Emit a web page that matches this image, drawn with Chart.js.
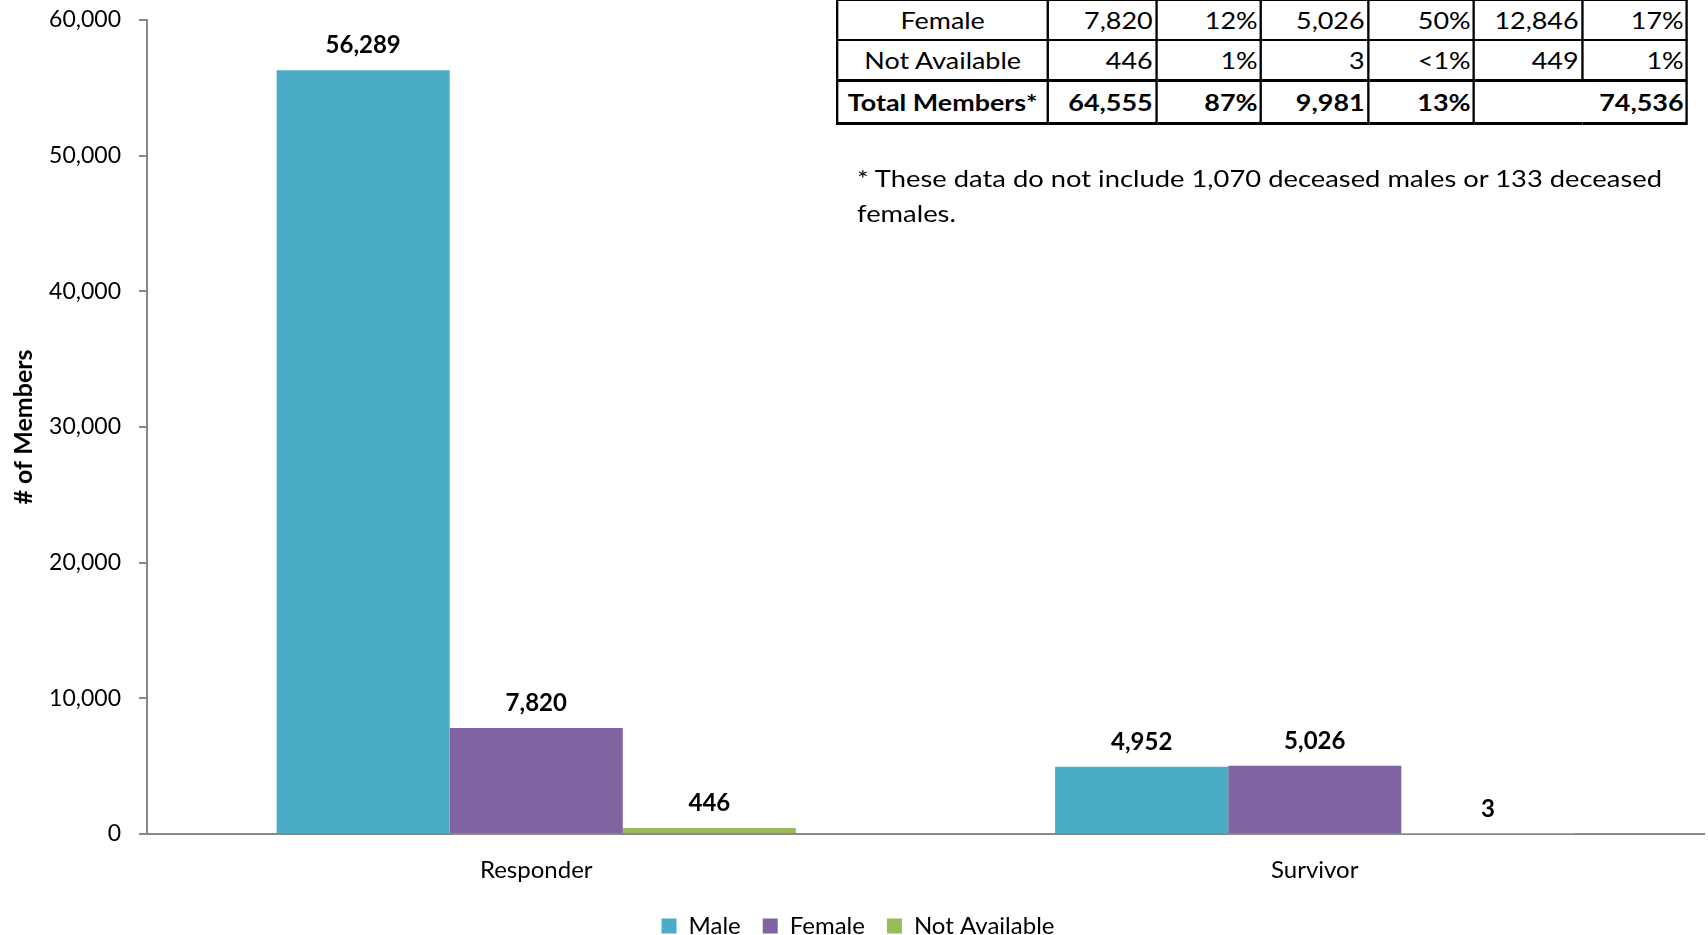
<!DOCTYPE html>
<html><head><meta charset="utf-8">
<script src="https://cdn.jsdelivr.net/npm/chart.js@4.4.1/dist/chart.umd.min.js"></script>
<style>
html,body{margin:0;padding:0;background:#fff;overflow:hidden;}
#wrap{position:relative;width:1708px;height:935px;overflow:hidden;}
#c{position:absolute;left:0;top:0;}
#tbl{position:absolute;left:836px;top:-41px;border-collapse:collapse;table-layout:fixed;font-family:Lato,sans-serif;font-size:23px;color:#000;background:#fff;transform:scaleX(1.17);transform-origin:0 0;}
#tbl td{border:2px solid #000;height:38px;padding:0 2px 0 0;text-align:right;white-space:nowrap;overflow:hidden;}
#tbl td.first{text-align:center;padding:0;}
#tbl tr.total td{font-weight:bold;height:40px;border-top:3px solid #000;border-bottom:3px solid #000;}
#note{position:absolute;left:857px;top:160px;font-family:Lato,sans-serif;font-size:24px;line-height:35px;color:#000;white-space:nowrap;transform:scaleX(1.14);transform-origin:0 0;}
</style>
</head><body>
<div id="wrap">
<canvas id="c" width="1708" height="935"></canvas>
<table id="tbl"><colgroup id="cols"></colgroup><tbody id="tb"></tbody></table>
<div id="note"></div>
</div>
<script>
// ---- chart data ----
const categories = ['Responder', 'Survivor'];
const seriesNames = ['Male', 'Female', 'Not Available'];
const maleValues = [56289, 4952];
const femaleValues = [7820, 5026];
const notAvailableValues = [446, 3];
const seriesColors = ['#4BACC6', '#8064A2', '#9BBB59'];
const yTickValues = [0, 10000, 20000, 30000, 40000, 50000, 60000];
const yAxisTitle = '# of Members';

// ---- table data (visible rows) ----
const tableRowLabels = ['', 'Female', 'Not Available', 'Total Members*'];
const tableRowFemale = ['7,820', '12%', '5,026', '50%', '12,846', '17%'];
const tableRowNA = ['446', '1%', '3', '<1%', '449', '1%'];
const tableRowTotal = ['64,555', '87%', '9,981', '13%', '74,536'];
const tableColWidths = [211, 108, 105, 107, 106, 108, 105];
const noteLines = ['* These data do not include 1,070 deceased males or 133 deceased', 'females.'];

const TABLE_SX = 1.17;
const cols = document.getElementById('cols');
let tw = 0;
tableColWidths.forEach(w => { const c = document.createElement('col'); c.style.width = (w / TABLE_SX) + 'px'; cols.appendChild(c); tw += w / TABLE_SX; });
document.getElementById('tbl').style.width = tw + 'px';
const tb = document.getElementById('tb');
function addRow(label, cells, cls, spanLast) {
  const tr = document.createElement('tr');
  if (cls) tr.className = cls;
  const td0 = document.createElement('td'); td0.className = 'first'; td0.textContent = label; tr.appendChild(td0);
  cells.forEach((v, i) => {
    const td = document.createElement('td'); td.textContent = v;
    if (spanLast && i === cells.length - 1) td.colSpan = 2;
    tr.appendChild(td);
  });
  tb.appendChild(tr);
}
addRow('', ['', '', '', '', '', ''], '', false);
addRow(tableRowLabels[1], tableRowFemale, '', false);
addRow(tableRowLabels[2], tableRowNA, '', false);
addRow(tableRowLabels[3], tableRowTotal, 'total', true);
document.getElementById('note').innerHTML = noteLines.join('<br>');

const fmt = v => Number(v).toLocaleString('en-US');

const valueLabels = {
  id: 'valueLabels',
  afterDatasetsDraw(chart) {
    const ctx = chart.ctx;
    ctx.save();
    ctx.font = 'bold 24px Lato';
    ctx.fillStyle = '#000';
    ctx.textAlign = 'center';
    ctx.textBaseline = 'middle';
    chart.data.datasets.forEach((ds, i) => {
      chart.getDatasetMeta(i).data.forEach((el, j) => {
        ctx.fillText(fmt(ds.data[j]), el.x, el.y - 25);
      });
    });
    ctx.restore();
  }
};

Chart.defaults.font.family = 'Lato';
Chart.defaults.color = '#000';

new Chart(document.getElementById('c'), {
  type: 'bar',
  data: {
    labels: categories,
    datasets: [
      { label: seriesNames[0], data: maleValues, backgroundColor: seriesColors[0] },
      { label: seriesNames[1], data: femaleValues, backgroundColor: seriesColors[1] },
      { label: seriesNames[2], data: notAvailableValues, backgroundColor: seriesColors[2] }
    ]
  },
  options: {
    responsive: false,
    animation: false,
    layout: { padding: { top: 20, right: 4, left: 12, bottom: -13 } },
    datasets: { bar: { categoryPercentage: 0.667, barPercentage: 1.0 } },
    scales: {
      x: {
        z: 1,
        grid: { display: false },
        border: { display: true, color: '#888', width: 2 },
        ticks: { font: { size: 24 }, padding: 14, color: '#000' },
        afterFit(s) { s.height = 58; }
      },
      y: {
        min: 0, max: 60000,
        afterBuildTicks(s) { s.ticks = yTickValues.map(v => ({ value: v })); },
        grid: { drawOnChartArea: false, drawTicks: true, tickLength: 8, color: '#888', lineWidth: 2 },
        border: { display: true, color: '#888', width: 2 },
        ticks: { font: { size: 23 }, padding: 18, color: '#000', callback: v => fmt(v) },
        title: { display: true, text: yAxisTitle, font: { size: 25, weight: 'bold' }, color: '#000', padding: { top: -3, bottom: 0 } },
        afterFit(s) { s.width = 135; s.paddingTop = 14; s.paddingBottom = 14; }
      }
    },
    plugins: {
      legend: {
        position: 'bottom',
        labels: { boxWidth: 15, boxHeight: 15, font: { size: 24 }, padding: 22, color: '#000' }
      },
      tooltip: { enabled: false }
    }
  },
  plugins: [valueLabels]
});
</script>
</body></html>
